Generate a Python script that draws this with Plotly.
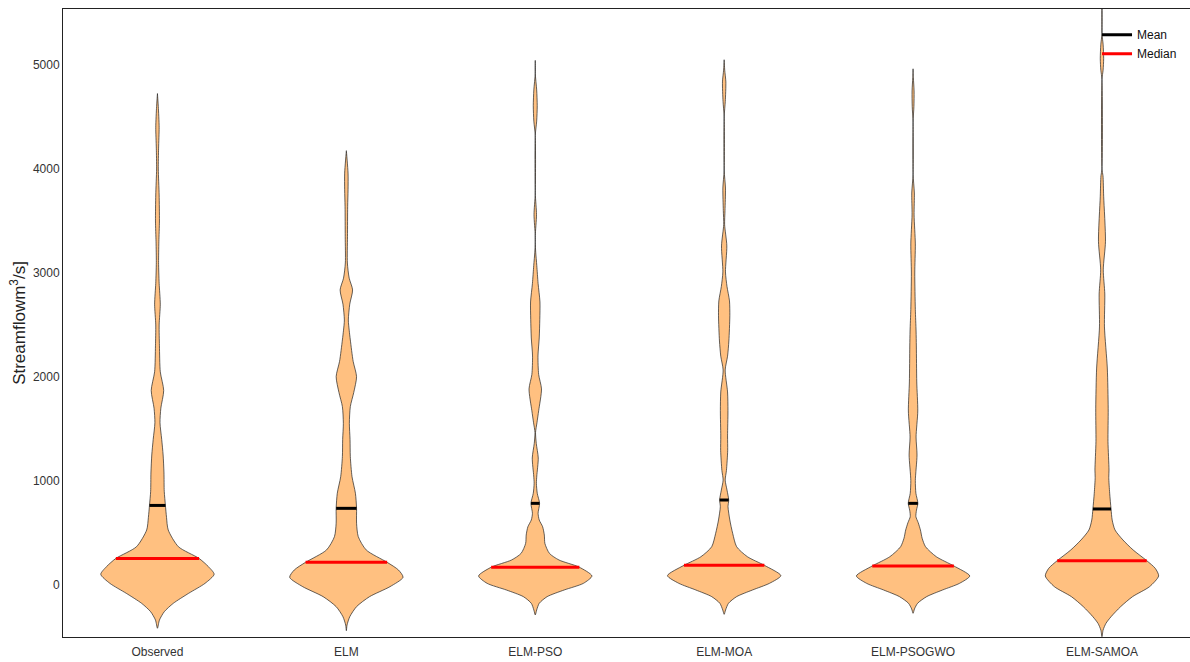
import numpy as np
import plotly.graph_objects as go

categories = ["Observed", "ELM", "ELM-PSO", "ELM-MOA", "ELM-PSOGWO", "ELM-SAMOA"]

# violin density profiles: levels (m3/s) and relative half-width (max = 1)
obs_levels = [-416, -337, -257, -176, -80, 16, 103, 176, 257, 368, 529, 650, 769, 900, 1077, 1250, 1400, 1560,
              1700, 1870, 2050, 2300, 2500, 2700, 2900, 3100, 3300, 3500, 3750, 4000, 4200, 4400, 4600, 4725]
obs_width = [0, 0.035, 0.12, 0.28, 0.55, 0.84, 1.0, 0.9, 0.73, 0.37, 0.19, 0.16, 0.14, 0.12, 0.115, 0.1, 0.075, 0.045,
             0.06, 0.11, 0.05, 0.035, 0.03, 0.05, 0.03, 0.02, 0.025, 0.035, 0.03, 0.015, 0.02, 0.03, 0.015, 0]

elm_levels = [-439, -385, -305, -208, -112, -16, 74, 144, 218, 337, 465, 594, 737, 882, 1041, 1234, 1400, 1554,
              1715, 1850, 2003, 2150, 2356, 2450, 2548, 2700, 2837, 2950, 3096, 3350, 3638, 3800, 3960, 4176]
elm_width = [0, 0.012, 0.06, 0.18, 0.41, 0.77, 1.0, 0.92, 0.72, 0.35, 0.21, 0.18, 0.18, 0.16, 0.10, 0.07, 0.065, 0.053,
             0.07, 0.13, 0.18, 0.12, 0.07, 0.05, 0.035, 0.06, 0.11, 0.05, 0.018, 0.02, 0.023, 0.03, 0.03, 0]

pso_levels = [-288, -240, -176, -112, -48, 16, 87, 173, 240, 304, 400, 480, 560, 625, 689, 785, 882, 978, 1048,
              1221, 1360, 1465, 1560, 1675, 1885, 2024, 2202, 2375, 2550, 2721, 2900, 3071, 3200, 3290, 3360,
              3560, 3770, 4320, 4460, 4608, 4760, 4920, 5044]
pso_width = [0, 0.025, 0.07, 0.21, 0.51, 0.85, 1.0, 0.77, 0.42, 0.25, 0.17, 0.16, 0.13, 0.07, 0.05, 0.076, 0.035,
             0.02, 0.027, 0.053, 0.018, 0.005, 0.03, 0.06, 0.11, 0.06, 0.048, 0.07, 0.08, 0.083, 0.05, 0.027, 0.008,
             0, 0, 0.022, 0, 0, 0.025, 0.035, 0.025, 0, 0]

moa_levels = [-282, -240, -176, -112, -48, 16, 90, 189, 272, 368, 497, 625, 753, 817, 913, 1009, 1100, 1291, 1433,
              1677, 1856, 2067, 2200, 2346, 2589, 2731, 2870, 3010, 3260, 3466, 3600, 3817, 3990, 4500, 4650,
              4837, 4950, 5050]
moa_width = [0, 0.025, 0.076, 0.22, 0.5, 0.8, 1.0, 0.71, 0.41, 0.22, 0.15, 0.1, 0.068, 0.08, 0.05, 0.018, 0.04,
             0.062, 0.06, 0.067, 0.06, 0.018, 0.06, 0.083, 0.1, 0.094, 0.05, 0.023, 0.047, 0.008, 0.015, 0.023, 0,
             0, 0.02, 0.03, 0.01, 0]

gwo_levels = [-272, -230, -176, -112, -48, 16, 87, 183, 272, 368, 450, 529, 600, 657, 720, 785, 882, 1005, 1250,
              1423, 1673, 1952, 2298, 2442, 2649, 3000, 3279, 3558, 3769, 3950, 4450, 4600, 4750, 4880, 4963]
gwo_width = [0, 0.025, 0.08, 0.24, 0.52, 0.82, 1.0, 0.72, 0.41, 0.22, 0.16, 0.13, 0.09, 0.05, 0.06, 0.085, 0.05,
             0.04, 0.07, 0.053, 0.083, 0.065, 0.058, 0.053, 0.04, 0.03, 0.04, 0.018, 0.023, 0, 0, 0.015, 0.018,
             0.005, 0]

samoa_levels = [-497, -433, -369, -305, -208, -112, -16, 87, 160, 234, 337, 433, 529, 625, 731, 882, 1034, 1105,
                1380, 1694, 2086, 2481, 2798, 3030, 3305, 3738, 3935, 4000, 4860, 4950, 5060, 5200, 5300, 5700]
samoa_width = [0, 0.02, 0.07, 0.16, 0.33, 0.54, 0.84, 1.0, 0.94, 0.79, 0.55, 0.37, 0.23, 0.18, 0.16, 0.136, 0.12,
               0.124, 0.106, 0.11, 0.094, 0.044, 0.05, 0.023, 0.062, 0.03, 0.018, 0, 0, 0.02, 0.03, 0.02, 0, 0]

means = [765, 737, 785, 817, 785, 731]
medians = [255, 218, 170, 189, 183, 234]

y_ticks = [0, 1000, 2000, 3000, 4000, 5000]

profiles = [(obs_levels, obs_width), (elm_levels, elm_width), (pso_levels, pso_width),
            (moa_levels, moa_width), (gwo_levels, gwo_width), (samoa_levels, samoa_width)]

HW_MAX = 0.30  # max half-width in category units
FILL = "#FFC080"
FONT = "Arial, Liberation Sans, sans-serif"

fig = go.Figure()

for i, (lv, wd) in enumerate(profiles):
    lv = np.array(lv, dtype=float)
    wd = np.array(wd, dtype=float) * HW_MAX
    xs = np.concatenate([i + wd, (i - wd)[::-1]])
    ys = np.concatenate([lv, lv[::-1]])
    fig.add_trace(go.Scatter(x=xs, y=ys, mode="lines", fill="toself", fillcolor=FILL,
                             line=dict(color="#222222", width=0.7, shape="spline", smoothing=0.7),
                             showlegend=False, hoverinfo="skip"))

def stat_lines(vals):
    xs, ys = [], []
    for i, ((lv, wd), v) in enumerate(zip(profiles, vals)):
        hw = float(np.interp(v, lv, wd)) * HW_MAX
        xs += [i - hw, i + hw, None]
        ys += [v, v, None]
    return xs, ys

mx, my = stat_lines(means)
fig.add_trace(go.Scatter(x=mx, y=my, mode="lines", name="Mean", line=dict(color="black", width=3)))
dx, dy = stat_lines(medians)
fig.add_trace(go.Scatter(x=dx, y=dy, mode="lines", name="Median", line=dict(color="red", width=3)))

fig.update_layout(
    width=1190, height=662,
    margin=dict(l=63, r=0, t=9, b=25),
    paper_bgcolor="white", plot_bgcolor="white",
    font=dict(family=FONT, size=12, color="#333333"),
    legend=dict(x=0.9175, y=0.982, xanchor="left", yanchor="top", bgcolor="rgba(0,0,0,0)",
                font=dict(size=12, color="#111111"), tracegroupgap=0),
)
fig.update_xaxes(range=[-0.5, 5.466], tickmode="array", tickvals=list(range(len(categories))),
                 ticktext=categories, showgrid=False, zeroline=False, showline=True, linecolor="#222222",
                 linewidth=1, mirror=True, ticks="", ticklabelstandoff=4,
                 tickfont=dict(size=12, color="#333333"))
fig.update_yaxes(range=[-500, 5538], tickvals=y_ticks, showgrid=False, zeroline=False, showline=True,
                 linecolor="#222222", linewidth=1, mirror=False, ticks="",
                 tickfont=dict(size=12, color="#333333"),
                 title=dict(text="Streamflowm<sup>3</sup>/s]", font=dict(size=17, color="#222222"), standoff=2))

fig.write_html("out.html")
